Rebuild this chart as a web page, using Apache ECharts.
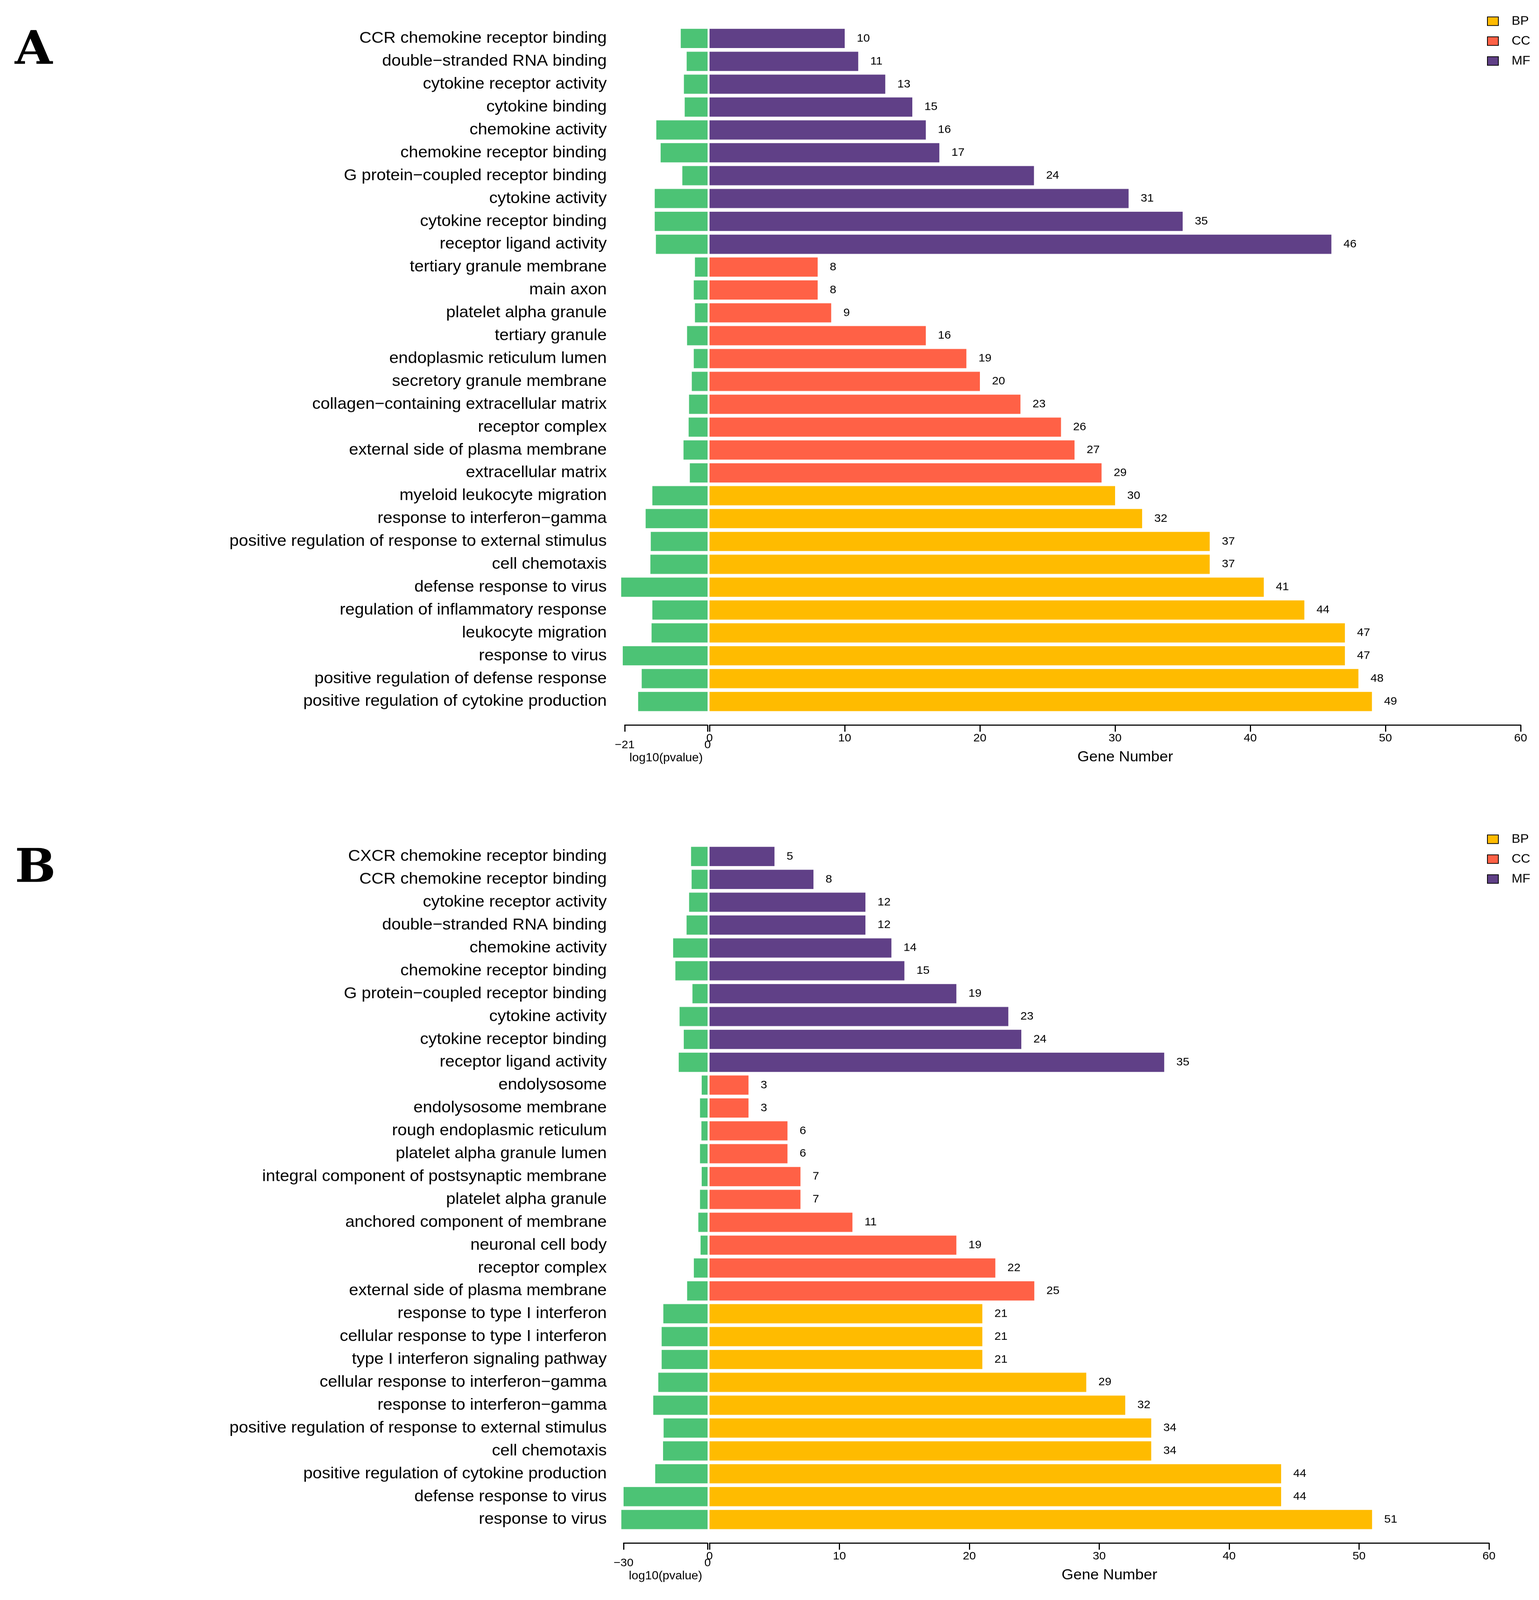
<!DOCTYPE html>
<html>
<head>
<meta charset="utf-8">
<title>GO enrichment</title>
<script src="https://cdn.jsdelivr.net/npm/echarts@6/dist/echarts.min.js"></script>
<style>
  html, body { margin: 0; padding: 0; background: #fff; overflow: hidden; }
  #chart { width: 3939px; height: 4262px; transform-origin: 0 0; }
</style>
</head>
<body>
<div id="chart"></div>
<script>
// panel A, top to bottom
var termsA = ['CCR chemokine receptor binding', 'double\u2212stranded RNA binding', 'cytokine receptor activity',
  'cytokine binding', 'chemokine activity', 'chemokine receptor binding', 'G protein\u2212coupled receptor binding',
  'cytokine activity', 'cytokine receptor binding', 'receptor ligand activity',
  'tertiary granule membrane', 'main axon', 'platelet alpha granule', 'tertiary granule',
  'endoplasmic reticulum lumen', 'secretory granule membrane', 'collagen\u2212containing extracellular matrix',
  'receptor complex', 'external side of plasma membrane', 'extracellular matrix',
  'myeloid leukocyte migration', 'response to interferon\u2212gamma', 'positive regulation of response to external stimulus',
  'cell chemotaxis', 'defense response to virus', 'regulation of inflammatory response', 'leukocyte migration',
  'response to virus', 'positive regulation of defense response', 'positive regulation of cytokine production'];
var countA = [10, 11, 13, 15, 16, 17, 24, 31, 35, 46,
  8, 8, 9, 16, 19, 20, 23, 26, 27, 29,
  30, 32, 37, 37, 41, 44, 47, 47, 48, 49];
var logpA = [-6.8, -5.3, -6.0, -5.8, -13.0, -11.9, -6.4, -13.4, -13.4, -13.1,
  -3.2, -3.5, -3.2, -5.2, -3.5, -4.0, -4.7, -4.8, -6.1, -4.5,
  -14.0, -15.7, -14.4, -14.5, -21.9, -14.0, -14.2, -21.5, -16.7, -17.6];
var groupA = ['MF','MF','MF','MF','MF','MF','MF','MF','MF','MF',
  'CC','CC','CC','CC','CC','CC','CC','CC','CC','CC',
  'BP','BP','BP','BP','BP','BP','BP','BP','BP','BP'];

// panel B, top to bottom
var termsB = ['CXCR chemokine receptor binding', 'CCR chemokine receptor binding', 'cytokine receptor activity',
  'double\u2212stranded RNA binding', 'chemokine activity', 'chemokine receptor binding',
  'G protein\u2212coupled receptor binding', 'cytokine activity', 'cytokine receptor binding', 'receptor ligand activity',
  'endolysosome', 'endolysosome membrane', 'rough endoplasmic reticulum', 'platelet alpha granule lumen',
  'integral component of postsynaptic membrane', 'platelet alpha granule', 'anchored component of membrane',
  'neuronal cell body', 'receptor complex', 'external side of plasma membrane',
  'response to type I interferon', 'cellular response to type I interferon', 'type I interferon signaling pathway',
  'cellular response to interferon\u2212gamma', 'response to interferon\u2212gamma',
  'positive regulation of response to external stimulus', 'cell chemotaxis',
  'positive regulation of cytokine production', 'defense response to virus', 'response to virus'];
var countB = [5, 8, 12, 12, 14, 15, 19, 23, 24, 35,
  3, 3, 6, 6, 7, 7, 11, 19, 22, 25,
  21, 21, 21, 29, 32, 34, 34, 44, 44, 51];
var logpB = [-5.9, -5.7, -6.6, -7.5, -12.3, -11.5, -5.4, -10.0, -8.5, -10.3,
  -2.1, -2.7, -2.2, -2.7, -2.1, -2.7, -3.3, -2.5, -4.9, -7.3,
  -15.8, -16.4, -16.4, -17.6, -19.4, -15.7, -15.9, -18.7, -30.0, -30.8];
var groupB = groupA.slice();

var groups = ['BP', 'CC', 'MF'];
var groupColors = { BP: '#FFBB00', CC: '#FF6146', MF: '#604087' };
var pColor = '#4CC375';
var FONT = 'Liberation Sans, Arial, sans-serif';

// keep the whole 3939x4262 drawing inside whatever viewport we get
var box = document.getElementById('chart');
var sx = (window.innerWidth || 3939) / 3939;
var sy = (window.innerHeight || 4262) / 4262;
if (Math.abs(sx - 1) > 0.001 || Math.abs(sy - 1) > 0.001) {
  box.style.transform = 'scale(' + sx + ',' + sy + ')';
}

var chart = echarts.init(box, null, { renderer: 'canvas' });

function minusFmt(v) {
  return v < 0 ? '\u2212' + Math.abs(v) : String(v);
}

function xAxisCfg(grid, min, max, interval, name, nameGap, nameSize, labelMargin, namePad) {
  return {
    type: 'value', gridIndex: grid, min: min, max: max, interval: interval,
    position: 'bottom', offset: 32,
    axisLine: { show: true, onZero: false, lineStyle: { color: '#000', width: 3 } },
    axisTick: { show: true, length: 18, lineStyle: { color: '#000', width: 3 } },
    axisLabel: { fontSize: 30, color: '#000', fontFamily: FONT, margin: labelMargin,
      showMinLabel: true, showMaxLabel: true, formatter: minusFmt },
    splitLine: { show: false },
    name: name, nameLocation: 'middle', nameGap: nameGap,
    nameTextStyle: { fontSize: nameSize, color: '#000', fontFamily: FONT, padding: namePad }
  };
}

function yAxisCfg(grid, terms, showLabels, margin) {
  return {
    type: 'category', gridIndex: grid, data: terms, inverse: true,
    axisLine: { show: false }, axisTick: { show: false }, splitLine: { show: false },
    axisLabel: { show: showLabels, interval: 0, fontSize: 43, color: '#000', fontFamily: FONT, margin: margin }
  };
}

function panelSeries(axisIdx, counts, logp, grp, stackName) {
  var list = [];
  groups.forEach(function (g) {
    list.push({
      name: g, type: 'bar', stack: stackName,
      xAxisIndex: axisIdx + 1, yAxisIndex: axisIdx + 1,
      barCategoryGap: '16%',
      itemStyle: { color: groupColors[g] },
      label: { show: true, position: 'right', distance: 31, fontSize: 30, color: '#000', fontFamily: FONT },
      data: counts.map(function (v, i) { return grp[i] === g ? v : '-'; })
    });
  });
  list.push({
    name: 'log10(pvalue)', type: 'bar',
    xAxisIndex: axisIdx, yAxisIndex: axisIdx,
    barCategoryGap: '16%', clip: false,
    itemStyle: { color: pColor },
    data: logp
  });
  return list;
}

var offB = 2179;

var option = {
  animation: false,
  backgroundColor: '#fff',
  grid: [
    { left: 1599, width: 212, top: 72, height: 1827 },
    { left: 1816, width: 2076, top: 72, height: 1827 },
    { left: 1596, width: 215, top: 72 + offB, height: 1827 },
    { left: 1816, width: 1995, top: 72 + offB, height: 1827 }
  ],
  xAxis: [
    xAxisCfg(0, -21, 0, 21, 'log10(pvalue)', 73, 31, 39, [0, 0, 0, 0]),
    xAxisCfg(1, 0, 60, 10, 'Gene Number', 67, 39, 21, [0, 0, 0, 52]),
    xAxisCfg(2, -30, 0, 30, 'log10(pvalue)', 73, 31, 39, [0, 0, 0, 0]),
    xAxisCfg(3, 0, 60, 10, 'Gene Number', 67, 39, 21, [0, 0, 0, 52])
  ],
  yAxis: [
    yAxisCfg(0, termsA, true, 46),
    yAxisCfg(1, termsA, false, 0),
    yAxisCfg(2, termsB, true, 43),
    yAxisCfg(3, termsB, false, 0)
  ],
  legend: [
    { data: groups, orient: 'vertical', left: 3801, top: 35, itemWidth: 28, itemHeight: 23, itemGap: 20,
      icon: 'rect', itemStyle: { borderColor: '#000', borderWidth: 2 }, selectedMode: false,
      textStyle: { fontSize: 33, color: '#000', fontFamily: FONT, padding: [0, 0, 0, 29] } },
    { data: groups, orient: 'vertical', left: 3801, top: 35 + offB, itemWidth: 28, itemHeight: 23, itemGap: 20,
      icon: 'rect', itemStyle: { borderColor: '#000', borderWidth: 2 }, selectedMode: false,
      textStyle: { fontSize: 33, color: '#000', fontFamily: FONT, padding: [0, 0, 0, 29] } }
  ],
  graphic: [
    { type: 'text', x: 38, y: 138, style: { text: 'A', fill: '#000', fontSize: 124, fontWeight: 'bold',
      fontFamily: 'DejaVu Serif', verticalAlign: 'middle' } },
    { type: 'text', x: 38, y: 138 + offB, style: { text: 'B', fill: '#000', fontSize: 124, fontWeight: 'bold',
      fontFamily: 'DejaVu Serif', verticalAlign: 'middle' } }
  ],
  series: panelSeries(0, countA, logpA, groupA, 'geneA').concat(panelSeries(2, countB, logpB, groupB, 'geneB'))
};

chart.setOption(option);
</script>
</body>
</html>
